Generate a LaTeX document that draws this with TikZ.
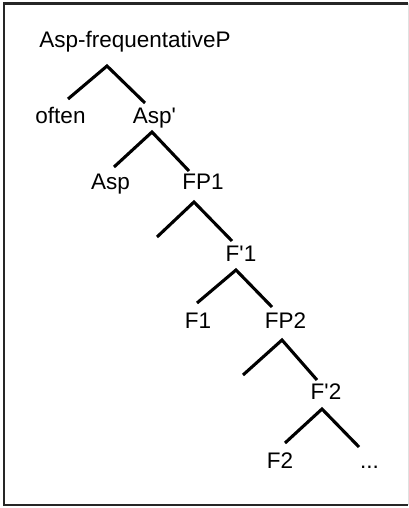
\documentclass[tikz,border=0pt]{standalone}
\usepackage{fontspec}
\setmainfont{Liberation Sans}[Ligatures=TeXOff]
\begin{document}
\begin{tikzpicture}[x=1pt,y=-1pt,
  lbl/.style={anchor=base,inner sep=0pt,font=\fontsize{22.5}{26}\selectfont},
  branch/.style={line width=3.1pt,line cap=butt},
  frame/.style={line width=2.5pt,black!85}]
\useasboundingbox (0,0) rectangle (409,508);
% frame
\draw[frame] (408,3.5) -- (4,3.5) -- (4,505) -- (408,505);
\draw[line width=0.6pt,black!12] (408,3.5) -- (408,505);
% labels
\node[lbl] (root) at (135,48) {Asp-frequentativeP};
\node[lbl] (often) at (60.5,123) {often};
\node[lbl] (aspbar) at (154.5,123) {Asp'};
\node[lbl] (asp) at (110.5,189) {Asp};
\node[lbl] (fp1) at (203,189) {FP1};
\node[lbl] (f1bar) at (241,261) {F'1};
\node[lbl] (f1) at (198,328) {F1};
\node[lbl] (fp2) at (285.5,328) {FP2};
\node[lbl] (f2bar) at (326,399) {F'2};
\node[lbl] (f2) at (280,468) {F2};
\node[lbl] (dots) at (369.5,468) {...};
% branch points
\coordinate (a1) at (107,66);  \coordinate (l1) at (68,99);   \coordinate (r1) at (145,103);
\coordinate (a2) at (152,132); \coordinate (l2) at (114,167); \coordinate (r2) at (189,171);
\coordinate (a3) at (194,202); \coordinate (l3) at (157,237); \coordinate (r3) at (232,241);
\coordinate (a4) at (236,270); \coordinate (l4) at (197,303); \coordinate (r4) at (272,307);
\coordinate (a5) at (282,340); \coordinate (l5) at (243,375); \coordinate (r5) at (317,380);
\coordinate (a6) at (322,409); \coordinate (l6) at (285,443); \coordinate (r6) at (359,447);
\foreach \i in {1,...,6}{\draw[branch] (l\i) -- (a\i) -- (r\i);}
\end{tikzpicture}
\end{document}
